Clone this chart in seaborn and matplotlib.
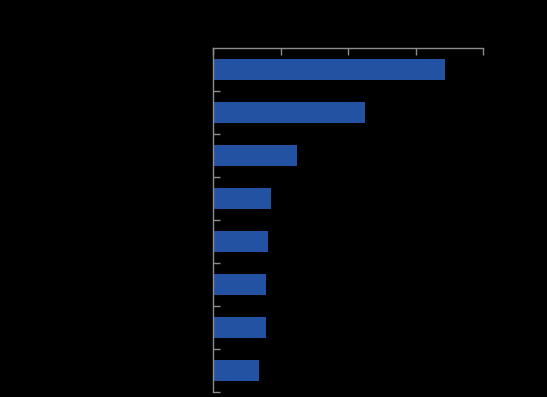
import matplotlib
matplotlib.use("Agg")
import matplotlib.pyplot as plt
import seaborn as sns
import pandas as pd
import numpy as np

categories = ["A", "B", "C", "D", "E", "F", "G", "H"]
values = [3.43, 2.25, 1.24, 0.855, 0.81, 0.78, 0.78, 0.68]
x_ticks = [0, 1, 2, 3, 4]

df = pd.DataFrame({"category": categories, "value": values})

sns.set_style("dark")
fig = plt.figure(figsize=(5.47, 3.97), dpi=100, facecolor="black")
ax = fig.add_axes([213.3 / 547, 1 - 392 / 397, 270 / 547, (392 - 48) / 397])
ax.set_facecolor("black")

sns.barplot(data=df, x="value", y="category", orient="h", color="#2352a3",
            saturation=1, width=0.5, linewidth=0, edgecolor="none", ax=ax)

ax.set_xlim(0, 4)
ax.set_ylim(7.5, -0.5)
ax.xaxis.tick_top()
ax.set_xticks(x_ticks)
ax.tick_params(axis="x", which="major", direction="in", length=5, width=1,
               color="#8c8c8c", labelcolor="black", top=True, bottom=False)
ax.set_yticks(range(len(categories)))
ax.set_yticklabels(categories)
ax.tick_params(axis="y", which="major", left=True, length=0, labelcolor="black")
ax.set_yticks(np.arange(0.5, len(categories), 1.0), minor=True)
ax.tick_params(axis="y", which="minor", left=True, direction="in", length=5,
               width=1, color="#8c8c8c")
ax.set_xlabel("")
ax.set_ylabel("")
ax.grid(False)
for s in ["right", "bottom"]:
    ax.spines[s].set_visible(False)
for s in ["top", "left"]:
    ax.spines[s].set_visible(True)
    ax.spines[s].set_color("#8c8c8c")
    ax.spines[s].set_linewidth(1)

fig.savefig("out.png", dpi=100, facecolor="black")
